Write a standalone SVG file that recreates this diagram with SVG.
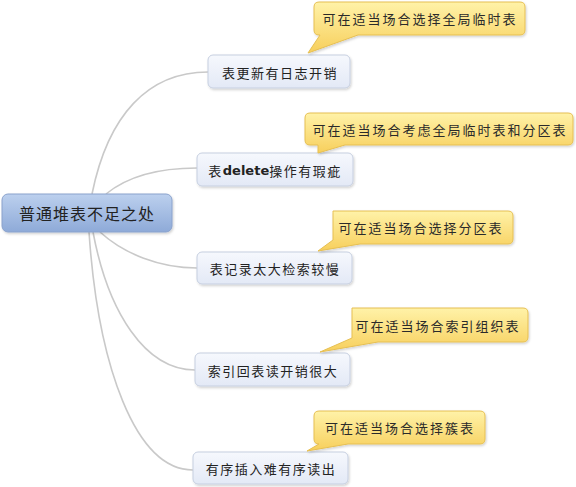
<svg xmlns="http://www.w3.org/2000/svg" width="576" height="487" viewBox="0 0 576 487">
<defs>
<linearGradient id="gCenter" x1="0" y1="0" x2="0" y2="1"><stop offset="0" stop-color="#bcd0ee"/><stop offset="1" stop-color="#8eaad8"/></linearGradient>
<linearGradient id="gBranch" x1="0" y1="0" x2="0" y2="1"><stop offset="0" stop-color="#f6f8fd"/><stop offset="1" stop-color="#e3e9f6"/></linearGradient>
<linearGradient id="gCallout" x1="0" y1="0" x2="0" y2="1"><stop offset="0" stop-color="#fff2a8"/><stop offset="1" stop-color="#f7cf5c"/></linearGradient>
<filter id="sh" x="-10%" y="-20%" width="120%" height="150%"><feDropShadow dx="1" dy="1.5" stdDeviation="1.2" flood-color="#000" flood-opacity="0.18"/></filter>
</defs>
<style>
.conn{fill:none;stroke:#c9c9c9;stroke-width:1.6}
.center{fill:url(#gCenter);stroke:#8aa2cc;stroke-width:1;filter:url(#sh)}
.branch{fill:url(#gBranch);stroke:#c6cfe0;stroke-width:1;filter:url(#sh)}
.callout{fill:url(#gCallout);stroke:#e6bf52;stroke-width:1;filter:url(#sh)}
.t{font-family:"Noto Sans CJK SC","Noto Sans",sans-serif;fill:#222;text-anchor:middle;dominant-baseline:central}
.tc{font-size:16px;letter-spacing:1px}
.tb{font-size:13px;letter-spacing:1.5px}
.tk{font-size:13px;letter-spacing:2px;fill:#2a2a2a}
</style>
<rect width="576" height="487" fill="#fff"/>
<g id="connectors">
<path class="conn" d="M92,194 C108,115 148,72 208,72"/>
<path class="conn" d="M106,194 C128,176 160,168 197,168"/>
<path class="conn" d="M100,232 C124,254 160,268 197,268"/>
<path class="conn" d="M93,232 C108,312 145,370 195,370"/>
<path class="conn" d="M89,232 C98,365 135,470 193,470"/>
</g>
<g id="center">
<rect class="center" x="2" y="194" width="170" height="38" rx="6"/>
<text class="t tc" x="87" y="213">普通堆表不足之处</text>
</g>
<g id="b1">
<rect class="branch" x="208" y="55" width="142" height="33" rx="5"/>
<text class="t tb" x="280" y="72">表更新有日志开销</text>
</g>
<g id="c1">
<path class="callout" d="M319,2 H520 Q525,2 525,7 V30 Q525,35 520,35 H358 L308,53 L320,35 H319 Q314,35 314,30 V7 Q314,2 319,2 Z"/>
<text class="t tk" x="420" y="18">可在适当场合选择全局临时表</text>
</g>
<g id="b2">
<rect class="branch" x="197" y="153" width="156" height="33" rx="5"/>
<text class="t tb" x="275" y="170">表<tspan font-weight="bold" font-family="'DejaVu Sans',sans-serif" letter-spacing="0">delete</tspan>操作有瑕疵</text>
</g>
<g id="c2">
<path class="callout" d="M310,113 H568 Q573,113 573,118 V140 Q573,145 568,145 H345 L318,153 L318,145 H310 Q305,145 305,140 V118 Q305,113 310,113 Z"/>
<text class="t tk" x="440" y="129">可在适当场合考虑全局临时表和分区表</text>
</g>
<g id="b3">
<rect class="branch" x="197" y="252" width="155" height="32" rx="5"/>
<text class="t tb" x="275" y="268">表记录太大检索较慢</text>
</g>
<g id="c3">
<path class="callout" d="M333,211 H508 Q513,211 513,216 V239 Q513,244 508,244 H360 L318,251 L333,240 V216 Q333,211 333,211 Z"/>
<text class="t tk" x="421" y="227">可在适当场合选择分区表</text>
</g>
<g id="b4">
<rect class="branch" x="195" y="353" width="155" height="33" rx="5"/>
<text class="t tb" x="273" y="370">索引回表读开销很大</text>
</g>
<g id="c4">
<path class="callout" d="M352,308 H523 Q528,308 528,313 V337 Q528,342 523,342 H378 L320,352 L352,338 V313 Q352,308 352,308 Z"/>
<text class="t tk" x="438" y="325">可在适当场合索引组织表</text>
</g>
<g id="b5">
<rect class="branch" x="193" y="452" width="155" height="32" rx="5"/>
<text class="t tb" x="271" y="468">有序插入难有序读出</text>
</g>
<g id="c5">
<path class="callout" d="M319,411 H480 Q485,411 485,416 V439 Q485,444 480,444 H348 L307,451 L319,444 Q314,444 314,439 V416 Q314,411 319,411 Z"/>
<text class="t tk" x="400" y="427">可在适当场合选择簇表</text>
</g>
</svg>
